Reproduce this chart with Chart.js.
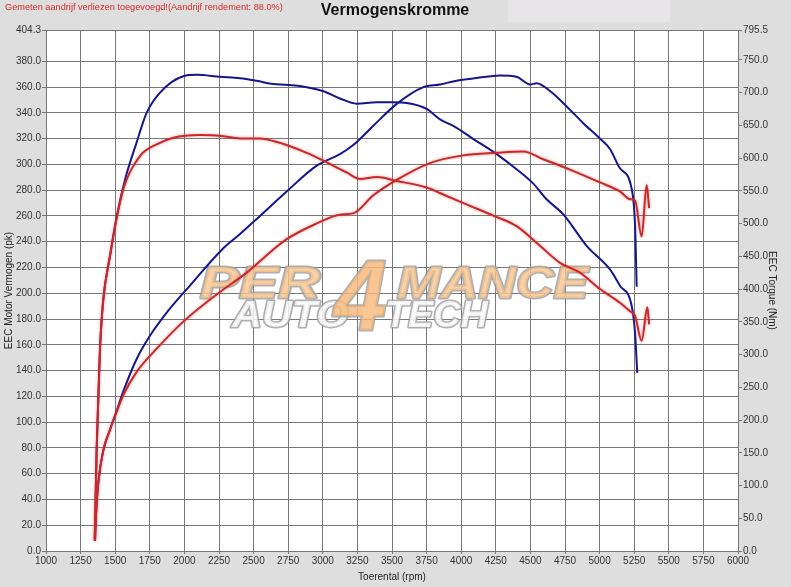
<!DOCTYPE html>
<html>
<head>
<meta charset="utf-8">
<script src="https://cdn.jsdelivr.net/npm/chart.js@4"></script>
<style>
  html, body { margin: 0; padding: 0; background: #dedede; }
  canvas { display: block; }
</style>
</head>
<body>
<canvas id="myChart" width="791" height="587"></canvas>
<script>
// blue = engine (EEC), red = measured; torque on the right axis, power on the left
const rpmBlueTorque = [1352,1366,1378,1390,1414,1462,1511,1571,1655,1727,1824,1992,2089,2257,2402,2522,2643,2727,2835,3004,3124,3245,3389,3509,3606,3750,3847,3943,4088,4256,4400,4521,4617,4738,4906,5075,5147,5232,5256,5272];
const blueTorque = [16,155,232,308,384,450,511,567,624,669,700,725,727,724,722,718,713,712,710,702,691,683,685,685,684,675,659,649,629,606,583,561,537,514,466,430,405,374,333,272];

const rpmRedTorque = [1352,1366,1378,1390,1414,1462,1511,1558,1679,1800,1920,2113,2257,2402,2546,2643,2763,2884,3004,3124,3172,3269,3389,3534,3750,3895,4064,4232,4400,4569,4714,4858,5003,5147,5220,5256,5304,5345,5358];
const redTorque = [16,155,232,308,384,450,508,552,603,621,631,635,634,630,630,626,618,608,596,583,578,568,571,565,555,542,527,512,496,466,440,425,400,379,366,359,321,372,346];

const rpmBluePower = [1354,1361,1378,1414,1462,1511,1559,1655,1751,1872,2040,2281,2402,2546,2739,2956,3124,3220,3365,3534,3727,3847,3967,4111,4280,4400,4497,4545,4642,4762,4882,5003,5075,5147,5232,5256,5268];
const bluePower = [8,27,53,78,94,109,124,149,167,185,206,235,246,260,279,299,308,315,330,347,360,362,365,367,369,368,362,363,357,345,332,320,312,297,281,253,205];

const rpmRedPower = [1354,1361,1378,1414,1462,1511,1559,1655,1800,1992,2257,2450,2643,2739,2932,3124,3220,3365,3534,3774,4015,4256,4449,4593,4786,5003,5147,5220,5256,5304,5340,5358];
const redPower = [8,27,53,78,94,108,121,139,157,178,201,216,234,242,253,261,262,276,288,301,307,309,310,304,296,286,279,273,272,244,284,266];

const powerTicks = [0,20,40,60,80,100,120,140,160,180,200,220,240,260,280,300,320,340,360,380,404.3];
const torqueTicks = [0,50,100,150,200,250,300,350,400,450,500,550,600,650,700,750,795.5];

const BLUE = '#16168c';
const RED = '#c42a2a';
const GRID = '#777777';
const FONT = 'Liberation Sans, Arial, sans-serif';

function pts(xs, ys) {
    return xs.map((x, i) => ({ x: x, y: ys[i] }));
}

const data = {
    datasets: [
        { label: 'Vermogen wiel', data: pts(rpmRedPower, redPower), borderColor: RED, yAxisID: 'yP', glow: true },
        { label: 'Koppel wiel', data: pts(rpmRedTorque, redTorque), borderColor: RED, yAxisID: 'yT', glow: true },
        { label: 'EEC Motor Vermogen', data: pts(rpmBluePower, bluePower), borderColor: BLUE, yAxisID: 'yP' },
        { label: 'EEC Torque', data: pts(rpmBlueTorque, blueTorque), borderColor: BLUE, yAxisID: 'yT' }
    ]
};

const frame = {
    id: 'frame',
    beforeDraw(chart) {
        const ctx = chart.ctx, a = chart.chartArea;
        ctx.save();
        ctx.fillStyle = '#dedede';
        ctx.fillRect(0, 0, chart.width, chart.height);
        ctx.fillStyle = '#e7e5e7';
        ctx.fillRect(508, 0, 162, 22);
        ctx.fillStyle = '#ffffff';
        ctx.fillRect(a.left, a.top, a.right - a.left, a.bottom - a.top);
        ctx.fillStyle = '#111';
        ctx.font = 'bold 16px ' + FONT;
        ctx.textAlign = 'center';
        ctx.textBaseline = 'middle';
        ctx.fillText('Vermogenskromme', 395, 11);
        ctx.fillStyle = '#d42a2a';
        ctx.font = '9.2px ' + FONT;
        ctx.textAlign = 'left';
        ctx.fillText('Gemeten aandrijf verliezen toegevoegd!(Aandrijf rendement: 88.0%)', 5, 7);
        ctx.restore();
    },
    beforeDatasetsDraw(chart) {
        const ctx = chart.ctx;
        ctx.save();
        ctx.globalAlpha = 0.8;
        ctx.lineJoin = 'round';
        ctx.strokeStyle = '#9c9c9c';
        ctx.lineWidth = 3;
        ctx.textBaseline = 'alphabetic';
        ctx.textAlign = 'left';
        function word(txt, x, y, size, sx, fill) {
            ctx.save();
            ctx.translate(x, y);
            ctx.scale(sx, 1);
            ctx.font = 'italic bold ' + size + 'px ' + FONT;
            ctx.strokeText(txt, 0, 0);
            ctx.fillStyle = fill;
            ctx.fillText(txt, 0, 0);
            ctx.restore();
        }
        word('AUTO', 232, 327, 36, 1.15, '#ffffff');
        word('TECH', 385, 327, 36, 1.05, '#ffffff');
        word('PER', 200, 298, 45, 1.3, '#f9c48e');
        word('MANCE', 397, 298, 45, 1.16, '#f9c48e');
        word('4', 334, 330, 100, 0.95, '#f7b878');
        ctx.restore();
    },
    beforeDatasetDraw(chart, args) {
        const ctx = chart.ctx;
        ctx.save();
        if (args.meta._dataset.glow) {
            ctx.shadowColor = 'rgba(255,60,60,0.55)';
            ctx.shadowBlur = 3;
        }
    },
    afterDatasetDraw(chart) {
        chart.ctx.restore();
    }
};

const tickFont = { family: FONT, size: 10 };

const config = {
    type: 'line',
    data: data,
    options: {
        responsive: false,
        animation: false,
        devicePixelRatio: 1,
        layout: { padding: { top: 30, left: 0, right: 0, bottom: 0 } },
        elements: {
            line: { borderWidth: 2, tension: 0, cubicInterpolationMode: 'monotone', fill: false },
            point: { radius: 0 }
        },
        plugins: {
            legend: { display: false },
            tooltip: { enabled: false }
        },
        scales: {
            x: {
                type: 'linear',
                min: 1000,
                max: 6000,
                afterFit(scale) { scale.height = 36; },
                ticks: { stepSize: 250, maxRotation: 0, autoSkip: false, color: '#333', font: tickFont, padding: 1, callback: v => String(v) },
                grid: { color: GRID, tickLength: 3 },
                border: { color: GRID },
                title: { display: true, text: 'Toerental (rpm)', color: '#222', font: tickFont, padding: { top: 0, bottom: 4 } }
            },
            yP: {
                position: 'left',
                min: 0,
                max: 404.3,
                afterFit(scale) { scale.width = 46; },
                afterBuildTicks(scale) { scale.ticks = powerTicks.map(v => ({ value: v })); },
                ticks: { color: '#333', font: tickFont, padding: 1, callback: v => Number(v).toFixed(1) },
                grid: { color: GRID, tickLength: 4 },
                border: { color: GRID },
                title: { display: true, text: 'EEC Motor Vermogen (pk)', color: '#222', font: tickFont, padding: { top: 3, bottom: 0 } }
            },
            yT: {
                position: 'right',
                min: 0,
                max: 795.5,
                afterFit(scale) { scale.width = 53; },
                afterBuildTicks(scale) { scale.ticks = torqueTicks.map(v => ({ value: v })); },
                ticks: { color: '#333', font: tickFont, padding: 1, callback: v => Number(v).toFixed(1) },
                grid: { drawOnChartArea: false, color: GRID, tickLength: 4 },
                border: { color: GRID },
                title: { display: true, text: 'EEC Torque (Nm)', color: '#222', font: tickFont, padding: { top: 13, bottom: 0 } }
            }
        }
    },
    plugins: [frame]
};

const myChart = new Chart(
    document.getElementById('myChart'),
    config
);
</script>
</body>
</html>
